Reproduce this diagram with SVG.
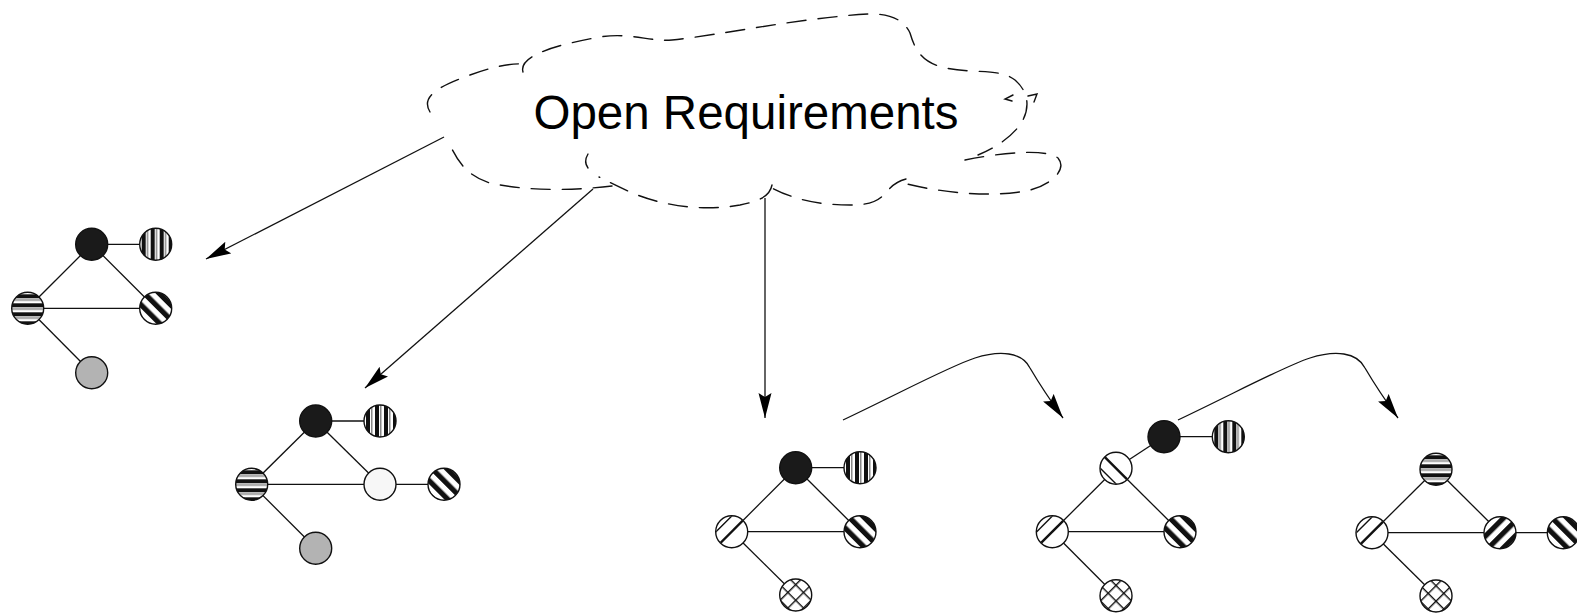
<svg xmlns="http://www.w3.org/2000/svg" width="1577" height="613" viewBox="0 0 1577 613">
  <style>
    .edge { stroke: #111; stroke-width: 1.3; fill: none; }
    .arrow { stroke: #111; stroke-width: 1.3; fill: none; marker-end: url(#head); }
    .cloud { stroke: #111; stroke-width: 1.4; fill: none; stroke-dasharray: 19 12; stroke-linecap: round; }
    .mark { stroke: #111; stroke-width: 1.4; fill: none; stroke-linecap: round; }
    .ring { stroke: #111; stroke-width: 1.4; }
    .hatch { stroke: #111; stroke-width: 2.4; }
    .label { font-family: "Liberation Sans", Arial, sans-serif; font-size: 47.5px; fill: #000; }
  </style>
  <defs>
    <marker id="head" markerUnits="userSpaceOnUse" markerWidth="27" markerHeight="15" refX="25" refY="6.5" orient="auto">
      <path d="M0,0 L25,6.5 L0,13 L4,6.5 Z" fill="#000"/>
    </marker>
    <clipPath id="disc"><circle cx="0" cy="0" r="15.5"/></clipPath>
    <!-- vertical stripes -->
    <pattern id="pV" patternUnits="userSpaceOnUse" x="-16" y="-16" width="9" height="32">
      <rect width="9" height="32" fill="#fff"/>
      <rect x="2" width="4" height="32" fill="#111"/>
      <rect x="7" width="1.5" height="32" fill="#888"/>
    </pattern>
    <!-- horizontal stripes -->
    <pattern id="pH" patternUnits="userSpaceOnUse" x="-16" y="-16" width="32" height="9">
      <rect width="32" height="9" fill="#fff"/>
      <rect y="2" width="32" height="4" fill="#111"/>
      <rect y="7" width="32" height="1.5" fill="#888"/>
    </pattern>
    <!-- bold stripes, top-left to bottom-right -->
    <pattern id="pBack" patternUnits="userSpaceOnUse" width="10.5" height="10.5" patternTransform="rotate(-45)">
      <rect width="10.5" height="10.5" fill="#fff"/>
      <rect x="0" width="5.2" height="10.5" fill="#111"/>
    </pattern>
    <!-- bold stripes, bottom-left to top-right -->
    <pattern id="pFwd" patternUnits="userSpaceOnUse" width="10.5" height="10.5" patternTransform="rotate(45)">
      <rect width="10.5" height="10.5" fill="#fff"/>
      <rect x="0" width="5.2" height="10.5" fill="#111"/>
    </pattern>
    <!-- cross hatch -->
    <pattern id="pX" patternUnits="userSpaceOnUse" width="11" height="11" patternTransform="rotate(45) translate(3 3)">
      <rect width="11" height="11" fill="#fff"/>
      <line x1="0" y1="0" x2="11" y2="0" stroke="#111" stroke-width="2.8"/>
      <line x1="0" y1="0" x2="0" y2="11" stroke="#111" stroke-width="2.8"/>
    </pattern>
    <!-- single slash marks -->
    <g id="slashF">
      <g clip-path="url(#disc)">
        <line class="hatch" x1="-20" y1="20" x2="20" y2="-20"/>
        <line class="mark" x1="-27.8" y1="12.2" x2="12.2" y2="-27.8"/>
      </g>
    </g>
    <g id="slashB">
      <g clip-path="url(#disc)">
        <line class="hatch" x1="-20" y1="-20" x2="20" y2="20"/>
        <line class="mark" x1="-27.8" y1="-12.2" x2="12.2" y2="27.8"/>
      </g>
    </g>
  </defs>

  <rect width="1577" height="613" fill="#fff"/>

  <!-- the cloud -->
  <g id="cloud">
    <path class="cloud" d="M430,112 C420,96 440,86 470,75 C492,67 510,63 524,64"/>
    <path class="cloud" d="M523,72 C518,55 560,44 600,37 C630,32 650,42 672,40 C720,35 800,18 868,14 C893,13 905,22 910,33 C915,50 922,63 946,68 C975,74 1000,68 1015,80 C1030,93 1030,110 1020,125 C1010,138 995,148 978,155"/>
    <path class="cloud" d="M965,160 C1000,153 1045,148 1058,158 C1068,170 1050,185 1030,190 C1000,197 950,195 903,183"/>
    <path class="cloud" d="M906,179 C880,186 892,205 850,205 C820,205 795,200 772,188"/>
    <path class="cloud" d="M772,185 C770,196 760,201 740,205 C700,212 660,205 630,192 C617,186 607,181 599,177"/>
    <path class="cloud" d="M612,186 C580,190 530,192 490,183 C470,177 460,165 452,149"/>
    <path class="mark" d="M588,154 C585,159 585,164 588,168"/>
    <path class="mark" d="M1013,95 L1005,99 L1012,101"/>
    <path class="mark" d="M1028,96 L1037,94 L1034,102"/>
    <text class="label" x="746" y="129" text-anchor="middle">Open Requirements</text>
  </g>

  <g id="connectors">
    <!-- requirement arrows -->
    <line class="arrow" x1="444" y1="137" x2="206" y2="259"/>
    <line class="arrow" x1="593" y1="189" x2="365" y2="388"/>
    <line class="arrow" x1="765" y1="198" x2="765" y2="418"/>
    <path class="arrow" d="M843,420 C900,393 950,366 975,358 C1000,350 1022,352 1030,368 C1040,385 1050,400 1063,418"/>
    <path class="arrow" d="M1178,420 C1235,393 1285,366 1310,358 C1335,350 1357,352 1365,368 C1375,385 1385,400 1398,418"/>

    <!-- graph 1 -->
    <line class="edge" x1="91.7" y1="244.3" x2="155.7" y2="244.3"/>
    <line class="edge" x1="91.7" y1="244.3" x2="27.7" y2="308.3"/>
    <line class="edge" x1="91.7" y1="244.3" x2="155.7" y2="308.3"/>
    <line class="edge" x1="27.7" y1="308.3" x2="155.7" y2="308.3"/>
    <line class="edge" x1="27.7" y1="308.3" x2="91.7" y2="372.7"/>

    <!-- graph 2 -->
    <line class="edge" x1="315.7" y1="421" x2="380" y2="421"/>
    <line class="edge" x1="315.7" y1="421" x2="251.7" y2="484.3"/>
    <line class="edge" x1="315.7" y1="421" x2="380" y2="484.3"/>
    <line class="edge" x1="251.7" y1="484.3" x2="380" y2="484.3"/>
    <line class="edge" x1="380" y1="484.3" x2="444" y2="484.3"/>
    <line class="edge" x1="251.7" y1="484.3" x2="315.7" y2="548.3"/>

    <!-- graph 3 -->
    <line class="edge" x1="795.7" y1="467.7" x2="860" y2="467.7"/>
    <line class="edge" x1="795.7" y1="467.7" x2="731.7" y2="531.7"/>
    <line class="edge" x1="795.7" y1="467.7" x2="860" y2="531.7"/>
    <line class="edge" x1="731.7" y1="531.7" x2="860" y2="531.7"/>
    <line class="edge" x1="731.7" y1="531.7" x2="795.7" y2="595"/>

    <!-- graph 4 -->
    <line class="edge" x1="1164" y1="436.7" x2="1228.3" y2="436.7"/>
    <line class="edge" x1="1164" y1="436.7" x2="1116" y2="468.3"/>
    <line class="edge" x1="1116" y1="468.3" x2="1052.3" y2="531.7"/>
    <line class="edge" x1="1116" y1="468.3" x2="1180" y2="531.7"/>
    <line class="edge" x1="1052.3" y1="531.7" x2="1180" y2="531.7"/>
    <line class="edge" x1="1052.3" y1="531.7" x2="1116" y2="595.7"/>

    <!-- graph 5 -->
    <line class="edge" x1="1436" y1="469.3" x2="1372" y2="532.7"/>
    <line class="edge" x1="1436" y1="469.3" x2="1500" y2="532.7"/>
    <line class="edge" x1="1372" y1="532.7" x2="1500" y2="532.7"/>
    <line class="edge" x1="1500" y1="532.7" x2="1563.3" y2="532.7"/>
    <line class="edge" x1="1372" y1="532.7" x2="1436" y2="596"/>
  </g>

  <!-- graph 1 nodes -->
  <g id="g1-black" transform="translate(91.7 244.3)"><circle class="ring" r="16" fill="#1a1a1a"/></g>
  <g id="g1-vert" transform="translate(155.7 244.3)"><circle class="ring" r="16" fill="url(#pV)"/></g>
  <g id="g1-horiz" transform="translate(27.7 308.3)"><circle class="ring" r="16" fill="url(#pH)"/></g>
  <g id="g1-diag" transform="translate(155.7 308.3)"><circle class="ring" r="16" fill="url(#pBack)"/></g>
  <g id="g1-gray" transform="translate(91.7 372.7)"><circle class="ring" r="16" fill="#b3b3b3"/></g>

  <!-- graph 2 nodes -->
  <g id="g2-black" transform="translate(315.7 421)"><circle class="ring" r="16" fill="#1a1a1a"/></g>
  <g id="g2-vert" transform="translate(380 421)"><circle class="ring" r="16" fill="url(#pV)"/></g>
  <g id="g2-horiz" transform="translate(251.7 484.3)"><circle class="ring" r="16" fill="url(#pH)"/></g>
  <g id="g2-white" transform="translate(380 484.3)"><circle class="ring" r="16" fill="#f7f7f7"/></g>
  <g id="g2-diag" transform="translate(444 484.3)"><circle class="ring" r="16" fill="url(#pBack)"/></g>
  <g id="g2-gray" transform="translate(315.7 548.3)"><circle class="ring" r="16" fill="#b3b3b3"/></g>

  <!-- graph 3 nodes -->
  <g id="g3-black" transform="translate(795.7 467.7)"><circle class="ring" r="16" fill="#1a1a1a"/></g>
  <g id="g3-vert" transform="translate(860 467.7)"><circle class="ring" r="16" fill="url(#pV)"/></g>
  <g id="g3-slash" transform="translate(731.7 531.7)"><circle r="16" fill="#fff"/><use href="#slashF"/><circle class="ring" r="16" fill="none"/></g>
  <g id="g3-diag" transform="translate(860 531.7)"><circle class="ring" r="16" fill="url(#pBack)"/></g>
  <g id="g3-cross" transform="translate(795.7 595)"><circle class="ring" r="16" fill="url(#pX)"/></g>

  <!-- graph 4 nodes -->
  <g id="g4-black" transform="translate(1164 436.7)"><circle class="ring" r="16" fill="#1a1a1a"/></g>
  <g id="g4-vert" transform="translate(1228.3 436.7)"><circle class="ring" r="16" fill="url(#pV)"/></g>
  <g id="g4-backslash" transform="translate(1116 468.3)"><circle r="16" fill="#fff"/><use href="#slashB"/><circle class="ring" r="16" fill="none"/></g>
  <g id="g4-slash" transform="translate(1052.3 531.7)"><circle r="16" fill="#fff"/><use href="#slashF"/><circle class="ring" r="16" fill="none"/></g>
  <g id="g4-diag" transform="translate(1180 531.7)"><circle class="ring" r="16" fill="url(#pBack)"/></g>
  <g id="g4-cross" transform="translate(1116 595.7)"><circle class="ring" r="16" fill="url(#pX)"/></g>

  <!-- graph 5 nodes -->
  <g id="g5-horiz" transform="translate(1436 469.3)"><circle class="ring" r="16" fill="url(#pH)"/></g>
  <g id="g5-slash" transform="translate(1372 532.7)"><circle r="16" fill="#fff"/><use href="#slashF"/><circle class="ring" r="16" fill="none"/></g>
  <g id="g5-fwd" transform="translate(1500 532.7)"><circle class="ring" r="16" fill="url(#pFwd)"/></g>
  <g id="g5-diag" transform="translate(1563.3 532.7)"><circle class="ring" r="16" fill="url(#pBack)"/></g>
  <g id="g5-cross" transform="translate(1436 596)"><circle class="ring" r="16" fill="url(#pX)"/></g>
</svg>
